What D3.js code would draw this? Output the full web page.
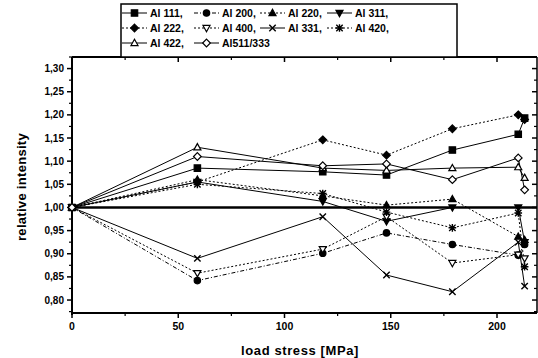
<!DOCTYPE html>
<html>
<head>
<meta charset="utf-8">
<script src="https://cdn.jsdelivr.net/npm/d3@7/dist/d3.min.js"></script>
<style>
  body { margin: 0; background: #fff; }
  svg { display: block; font-family: "Liberation Sans", Arial, sans-serif; }
</style>
</head>
<body>
<svg id="chart" width="538" height="358"></svg>
<script>
// load stress steps [MPa]
const loadStress = [0, 59, 118, 148, 179, 210, 213];

// relative intensity per reflection
const al111 = [1.00, 1.085, 1.077, 1.070, 1.124, 1.158, 1.193];
const al200 = [1.00, 0.842, 0.901, 0.945, 0.920, 0.897, 0.920];
const al220 = [1.00, 1.060, 1.025, 1.005, 1.018, 0.937, 0.930];
const al311 = [1.00, 1.055, 1.013, 0.970, 1.000, 1.000, 0.925];
const al222 = [1.00, 1.055, 1.146, 1.113, 1.170, 1.200, 1.190];
const al400 = [1.00, 0.858, 0.910, 0.980, 0.880, 0.898, 0.890];
const al331 = [1.00, 0.890, 0.980, 0.854, 0.818, 0.925, 0.830];
const al420 = [1.00, 1.050, 1.030, 0.990, 0.956, 0.988, 0.872];
const al422 = [1.00, 1.130, 1.085, 1.080, 1.085, 1.087, 1.064];
const al511 = [1.00, 1.110, 1.090, 1.094, 1.060, 1.107, 1.038];

const seriesNames = ["Al 111", "Al 200", "Al 220", "Al 311", "Al 222", "Al 400", "Al 331", "Al 420", "Al 422", "Al511/333"];
const seriesValues = [al111, al200, al220, al311, al222, al400, al331, al420, al422, al511];
const seriesMarks = ["square", "circle", "triUp", "triDown", "diamond", "triDownOpen", "times", "star", "triUpOpen", "diamondOpen"];
const seriesDash = [null, "4,2,1,2", "2,2", null, "2,2", "2,2", null, "2,2", null, null];

const xMajor = [0, 50, 100, 150, 200];
const xMinor = [25, 75, 125, 175];
const yMajor = [0.80, 0.85, 0.90, 0.95, 1.00, 1.05, 1.10, 1.15, 1.20, 1.25, 1.30];
const yMinor = [0.775, 0.825, 0.875, 0.925, 0.975, 1.025, 1.075, 1.125, 1.175, 1.225, 1.275, 1.325];

const svg = d3.select("#chart");
const pLeft = 72, pRight = 537, pTop = 57, pBottom = 313;

const x = d3.scaleLinear().domain([0, (pRight - pLeft) / 2.125]).range([pLeft, pRight]);
const y = d3.scaleLinear().domain([0.772, 1.325]).range([pBottom, pTop]);

// marker path builder
function markPath(kind, r) {
  const p = d3.path();
  const k = kind.replace("Open", "");
  if (k === "square") { p.rect(-r, -r, 2 * r, 2 * r); }
  else if (k === "circle") { p.arc(0, 0, r, 0, 2 * Math.PI); }
  else if (k === "triUp") { p.moveTo(0, -r * 1.15); p.lineTo(r * 1.1, r * 0.8); p.lineTo(-r * 1.1, r * 0.8); p.closePath(); }
  else if (k === "triDown") { p.moveTo(0, r * 1.15); p.lineTo(r * 1.1, -r * 0.8); p.lineTo(-r * 1.1, -r * 0.8); p.closePath(); }
  else if (k === "diamond") { p.moveTo(0, -r * 1.2); p.lineTo(r * 1.2, 0); p.lineTo(0, r * 1.2); p.lineTo(-r * 1.2, 0); p.closePath(); }
  else if (k === "times") { p.moveTo(-r, -r); p.lineTo(r, r); p.moveTo(r, -r); p.lineTo(-r, r); }
  else if (k === "star") {
    p.moveTo(-r, -r); p.lineTo(r, r); p.moveTo(r, -r); p.lineTo(-r, r);
    p.moveTo(0, -r * 1.2); p.lineTo(0, r * 1.2); p.moveTo(-r * 1.2, 0); p.lineTo(r * 1.2, 0);
  }
  return p.toString();
}
function drawMark(g, kind, cx, cy) {
  const open = kind.endsWith("Open");
  const stroked = kind === "times" || kind === "star";
  g.append("path")
    .attr("d", markPath(kind, 3.2))
    .attr("transform", `translate(${cx},${cy})`)
    .attr("fill", stroked ? "none" : (open ? "#fff" : "#000"))
    .attr("stroke", "#000")
    .attr("stroke-width", stroked ? 1.4 : 1.2);
}

// frame
const axis = svg.append("g").attr("stroke", "#000").attr("fill", "none");
axis.append("line").attr("x1", pLeft).attr("x2", pLeft).attr("y1", pTop).attr("y2", pBottom + 2).attr("stroke-width", 2);
axis.append("line").attr("x1", pLeft - 1).attr("x2", pRight).attr("y1", pBottom).attr("y2", pBottom).attr("stroke-width", 2);
axis.append("line").attr("x1", pLeft).attr("x2", pRight).attr("y1", pTop).attr("y2", pTop).attr("stroke-width", 2);
axis.append("line").attr("x1", pRight).attr("x2", pRight).attr("y1", pTop).attr("y2", pBottom).attr("stroke-width", 1.5);

// y ticks
yMajor.forEach(v => {
  axis.append("line").attr("x1", pLeft - 5).attr("x2", pLeft).attr("y1", y(v)).attr("y2", y(v)).attr("stroke-width", 1.5);
  axis.append("line").attr("x1", pRight - 5).attr("x2", pRight).attr("y1", y(v)).attr("y2", y(v)).attr("stroke-width", 1.5);
});
yMinor.forEach(v => {
  axis.append("line").attr("x1", pLeft - 3).attr("x2", pLeft).attr("y1", y(v)).attr("y2", y(v)).attr("stroke-width", 1.2);
  axis.append("line").attr("x1", pRight - 3).attr("x2", pRight).attr("y1", y(v)).attr("y2", y(v)).attr("stroke-width", 1.2);
});
// x ticks
xMajor.forEach(v => {
  axis.append("line").attr("x1", x(v)).attr("x2", x(v)).attr("y1", pBottom).attr("y2", pBottom + 5).attr("stroke-width", 1.5);
  axis.append("line").attr("x1", x(v)).attr("x2", x(v)).attr("y1", pTop).attr("y2", pTop + 5).attr("stroke-width", 1.5);
});
xMinor.forEach(v => {
  axis.append("line").attr("x1", x(v)).attr("x2", x(v)).attr("y1", pBottom).attr("y2", pBottom + 3).attr("stroke-width", 1.2);
  axis.append("line").attr("x1", x(v)).attr("x2", x(v)).attr("y1", pTop).attr("y2", pTop + 3).attr("stroke-width", 1.2);
});

// tick labels
svg.append("g").selectAll("text").data(yMajor).join("text")
  .attr("x", pLeft - 8).attr("y", d => y(d) + 3.5)
  .attr("text-anchor", "end").attr("font-size", 10).attr("font-weight", "bold")
  .text(d => d.toFixed(2).replace(".", ","));
svg.append("g").selectAll("text").data(xMajor).join("text")
  .attr("x", d => x(d)).attr("y", pBottom + 17)
  .attr("text-anchor", "middle").attr("font-size", 10.5).attr("font-weight", "bold")
  .text(d => d);

// axis titles
svg.append("text").attr("x", 300).attr("y", 355).attr("text-anchor", "middle")
  .attr("font-size", 13).attr("font-weight", "bold").attr("letter-spacing", 0.6)
  .text("load stress [MPa]");
svg.append("text").attr("transform", "translate(26,187) rotate(-90)").attr("text-anchor", "middle")
  .attr("font-size", 13).attr("font-weight", "bold").attr("letter-spacing", 0.3)
  .text("relative intensity");

// reference line at 1.00
svg.append("line").attr("x1", pLeft).attr("x2", pRight).attr("y1", y(1)).attr("y2", y(1))
  .attr("stroke", "#000").attr("stroke-width", 2.5);

// series
const line = d3.line().x(d => x(d[0])).y(d => y(d[1]));
const plot = svg.append("g");
seriesValues.forEach((vals, i) => {
  const pts = loadStress.map((s, j) => [s, vals[j]]);
  plot.append("path").attr("d", line(pts)).attr("fill", "none")
    .attr("stroke", "#000").attr("stroke-width", 1)
    .attr("stroke-dasharray", seriesDash[i]);
});
seriesValues.forEach((vals, i) => {
  const g = plot.append("g");
  loadStress.forEach((s, j) => drawMark(g, seriesMarks[i], x(s), y(vals[j])));
});

// legend
const legend = svg.append("g");
legend.append("rect").attr("x", 121).attr("y", 4).attr("width", 336).attr("height", 53)
  .attr("fill", "#fff").attr("stroke", "#000").attr("stroke-width", 1.5);
const legRows = [13, 28, 43];
const legCols = [150, 222, 288, 355];
seriesNames.forEach((name, i) => {
  const row = Math.floor(i / 4), col = i % 4;
  const tx = legCols[col], ty = legRows[row];
  legend.append("line").attr("x1", tx - 28).attr("x2", tx - 3).attr("y1", ty).attr("y2", ty)
    .attr("stroke", "#000").attr("stroke-width", 1).attr("stroke-dasharray", seriesDash[i]);
  drawMark(legend, seriesMarks[i], tx - 15.5, ty);
  legend.append("text").attr("x", tx).attr("y", ty + 4)
    .attr("font-size", 10.5).attr("font-weight", "bold")
    .text(name + (i < seriesNames.length - 1 ? "," : ""));
});
</script>
</body>
</html>
